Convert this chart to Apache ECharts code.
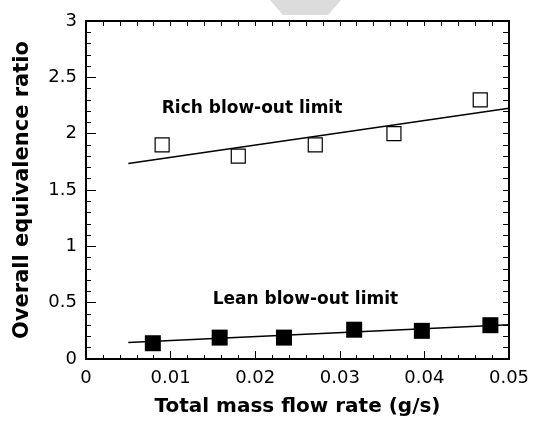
<!DOCTYPE html>
<html><head><meta charset="utf-8">
<script src="https://cdn.jsdelivr.net/npm/echarts@6/dist/echarts.min.js"></script>
<style>html,body{margin:0;padding:0;background:#fff}#c{width:533px;height:423px}</style>
</head><body><div id="c"></div>
<script>
const xTickLabels = ['0', '0.01', '0.02', '0.03', '0.04', '0.05'];
const yTickLabels = ['0', '0.5', '1', '1.5', '2', '2.5', '3'];
const richX = [0.009, 0.018, 0.0271, 0.0364, 0.0466];
const richY = [1.9, 1.8, 1.9, 2.0, 2.3];
const leanX = [0.0079, 0.0158, 0.0234, 0.0317, 0.0397, 0.0478];
const leanY = [0.14, 0.19, 0.19, 0.26, 0.25, 0.30];
const richFitX = [0.005, 0.05];
const richFitY = [1.736, 2.226];
const leanFitX = [0.005, 0.05];
const leanFitY = [0.147, 0.304];
const noteText = ['Rich blow-out limit', 'Lean blow-out limit'];
const noteX = [0.00895, 0.01498];
const noteY = [2.225, 0.53];

const FONT = 'DejaVu Sans';
const zip = (a, b) => a.map((v, i) => [v, b[i]]);

const chart = echarts.init(document.getElementById('c'), null, {renderer: 'canvas'});

const baseX = {
  type: 'value', min: 0, max: 0.05, interval: 0.01,
  splitLine: {show: false},
  axisLine: {show: true, onZero: false, lineStyle: {color: '#000', width: 2}},
  minorTick: {show: true, splitNumber: 5, length: 4, lineStyle: {color: '#000', width: 1}},
  axisTick: {show: true, inside: true, length: 8, lineStyle: {color: '#000', width: 1}}
};
const baseY = {
  type: 'value', min: 0, max: 3, interval: 0.5,
  splitLine: {show: false},
  axisLine: {show: true, onZero: false, lineStyle: {color: '#000', width: 2}},
  minorTick: {show: true, splitNumber: 5, length: 5, lineStyle: {color: '#000', width: 1}},
  axisTick: {show: true, inside: true, length: 10, lineStyle: {color: '#000', width: 1}}
};

chart.setOption({
  animation: false,
  backgroundColor: '#fff',
  grid: {left: 86, right: 24, top: 21, bottom: 64, containLabel: false},
  xAxis: [
    Object.assign({}, baseX, {
      position: 'bottom',
      name: 'Total mass flow rate (g/s)', nameLocation: 'middle', nameGap: 38,
      nameTextStyle: {fontFamily: FONT, fontWeight: 'bold', fontSize: 20, color: '#000'},
      axisLabel: {show: true, margin: 10, fontFamily: FONT, fontSize: 18, color: '#000',
        formatter: (v) => xTickLabels[Math.round(v / 0.01)]}
    }),
    Object.assign({}, baseX, {
      position: 'top',
      axisTick: {show: true, inside: true, length: 5, lineStyle: {color: '#000', width: 1}},
      minorTick: {show: true, splitNumber: 5, length: 5, lineStyle: {color: '#000', width: 1}},
      axisLabel: {show: false}
    })
  ],
  yAxis: [
    Object.assign({}, baseY, {
      position: 'left',
      name: 'Overall equivalence ratio', nameLocation: 'middle', nameGap: 53,
      nameTextStyle: {fontFamily: FONT, fontWeight: 'bold', fontSize: 21, color: '#000'},
      axisLabel: {show: true, margin: 9, fontFamily: FONT, fontSize: 18, color: '#000',
        formatter: (v) => yTickLabels[Math.round(v / 0.5)]}
    }),
    Object.assign({}, baseY, {
      position: 'right',
      axisTick: {show: true, inside: true, length: 6, lineStyle: {color: '#000', width: 1}},
      minorTick: {show: true, splitNumber: 5, length: 6, lineStyle: {color: '#000', width: 1}},
      axisLabel: {show: false}
    })
  ],
  series: [
    {type: 'line', xAxisIndex: 0, yAxisIndex: 0, data: zip(richFitX, richFitY),
      showSymbol: false, symbol: 'none', lineStyle: {color: '#000', width: 1.5}, z: 2},
    {type: 'line', xAxisIndex: 0, yAxisIndex: 0, data: zip(leanFitX, leanFitY),
      showSymbol: false, symbol: 'none', lineStyle: {color: '#000', width: 1.5}, z: 2},
    {type: 'scatter', xAxisIndex: 0, yAxisIndex: 0, data: zip(richX, richY),
      symbol: 'rect', symbolSize: 14,
      itemStyle: {color: '#fff', borderColor: '#000', borderWidth: 1.2, opacity: 1}, z: 3},
    {type: 'scatter', xAxisIndex: 0, yAxisIndex: 0, data: zip(leanX, leanY),
      symbol: 'rect', symbolSize: 16,
      itemStyle: {color: '#000', opacity: 1}, z: 3}
  ]
});

const notes = noteText.map((t, i) => {
  const p = chart.convertToPixel({xAxisIndex: 0, yAxisIndex: 0}, [noteX[i], noteY[i]]);
  return {
    type: 'text', silent: true, z: 10, x: p[0], y: p[1],
    style: {text: t, fill: '#000', font: 'bold 17px "DejaVu Sans"',
      textAlign: 'left', textVerticalAlign: 'middle'}
  };
});
chart.setOption({
  graphic: [{
    type: 'polygon', silent: true, z: 0,
    shape: {points: [[270, 0], [341, 0], [328, 15], [283, 15]]},
    style: {fill: '#dcdcdc'}
  }].concat(notes)
});
</script></body></html>
